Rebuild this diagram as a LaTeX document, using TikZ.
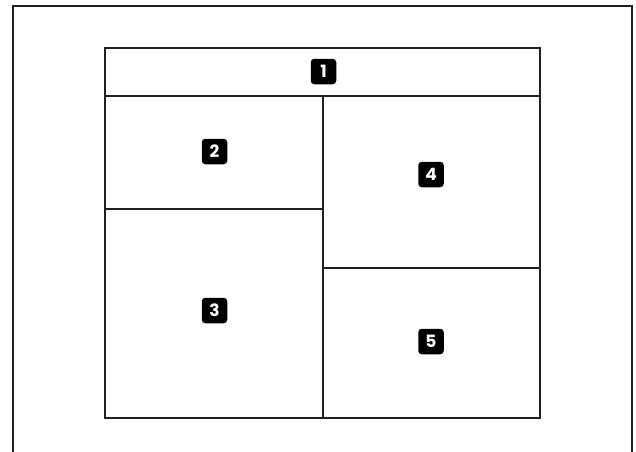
\documentclass[tikz,border=0pt]{standalone}
\usepackage{fontspec}
\setmainfont{Poppins}[BoldFont={* Bold}]
\definecolor{ink}{HTML}{231F20}
\begin{document}
\begin{tikzpicture}[x=1pt,y=-1pt,
  frameline/.style={draw=ink,line width=2.6pt},
  badge/.style={fill=black,rounded corners=3.5pt,minimum width=25.5pt,minimum height=25.5pt,inner sep=0pt,text=white,font=\bfseries\fontsize{17}{17}\selectfont}]
\useasboundingbox (0,0) rectangle (636,451);
% outer open frame
\coordinate (oBL) at (13,452);
\coordinate (oTL) at (13,6);
\coordinate (oTR) at (632,6);
\coordinate (oBR) at (632,452);
\draw[frameline] (oBL) -- (oTL) -- (oTR) -- (oBR);
% inner layout
\coordinate (iTL) at (105,48);
\coordinate (iBR) at (540,418);
\draw[frameline] (iTL) rectangle (iBR);
\coordinate (hL) at (105,96);
\coordinate (hR) at (540,96);
\draw[frameline] (hL) -- (hR);
\coordinate (vT) at (323,96);
\coordinate (vB) at (323,418);
\draw[frameline] (vT) -- (vB);
\coordinate (lL) at (105,209);
\coordinate (lR) at (323,209);
\draw[frameline] (lL) -- (lR);
\coordinate (rL) at (323,268);
\coordinate (rR) at (540,268);
\draw[frameline] (rL) -- (rR);
% badges
\node[badge] (b1) at (323.5,71.5) {1};
\node[badge] (b2) at (214.5,151.5) {2};
\node[badge] (b3) at (214.5,310.5) {3};
\node[badge] (b4) at (431,174.5) {4};
\node[badge] (b5) at (431,341.5) {5};
\end{tikzpicture}
\end{document}
